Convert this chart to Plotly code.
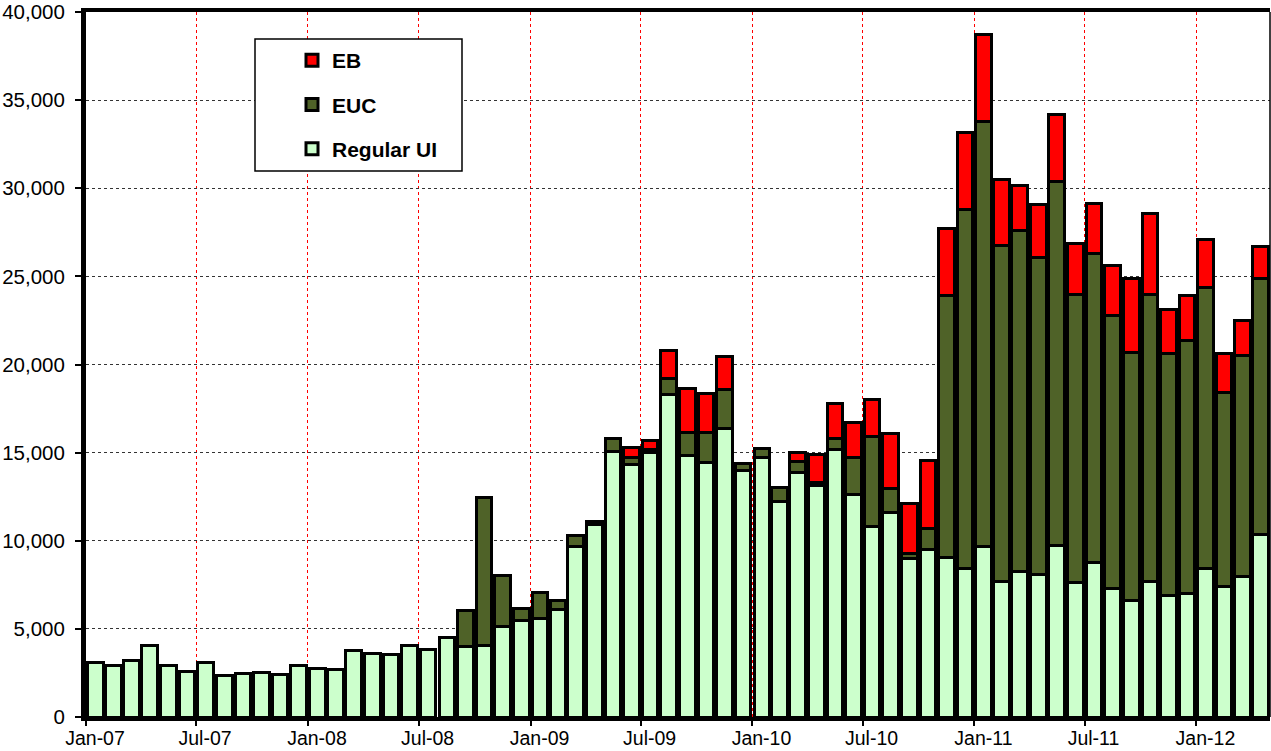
import pandas as pd
import plotly.graph_objects as go

months = pd.date_range("2007-01-01", periods=64, freq="MS").strftime("%Y-%m-%d").tolist()

regular_ui = [3100, 2950, 3180, 4030, 2930, 2590, 3080, 2360, 2440, 2550, 2420, 2910,
              2780, 2690, 3760, 3630, 3570, 4085, 3840, 4500, 3990, 4085, 5125, 5500,
              5580, 6110, 9700, 10910, 15070, 14320, 15000, 18300, 14810, 14450, 16360, 13980,
              14750, 12220, 13860, 13110, 15190, 12600, 10820, 11580, 9000, 9480, 9060, 8400,
              9660, 7680, 8280, 8100, 9720, 7620, 8790, 7280, 6600, 7700, 6880, 7020,
              8400, 7390, 7960, 10330]

euc = [0, 0, 0, 0, 0, 0, 0, 0, 0, 0, 0, 0,
       0, 0, 0, 0, 0, 0, 0, 0, 2080, 8395, 2895, 650,
       1495, 510, 610, 210, 760, 400, 170, 910, 1330, 1700, 2250, 390,
       490, 790, 630, 200, 620, 2130, 5120, 1410, 250, 1230, 14880, 20370,
       24120, 19100, 19310, 17960, 20690, 16380, 17510, 15510, 14090, 16280, 13750, 14330,
       15960, 11010, 12560, 14560]

eb = [0, 0, 0, 0, 0, 0, 0, 0, 0, 0, 0, 0,
      0, 0, 0, 0, 0, 0, 0, 0, 0, 0, 0, 0,
      0, 0, 0, 0, 0, 560, 540, 1610, 2510, 2180, 1870, 0,
      0, 0, 530, 1610, 1990, 1970, 2100, 3110, 2840, 3830, 3750, 4400,
      4920, 3690, 2540, 2990, 3780, 2880, 2810, 2800, 4200, 4600, 2500, 2560,
      2760, 2200, 1980, 1800]

# (name, values, colour, legend rank)
series = [
    ("Regular UI", regular_ui, "#CCFFCC", 3),
    ("EUC", euc, "#4F6228", 2),
    ("EB", eb, "#FF0000", 1),
]

FONT = "Arial, Liberation Sans, sans-serif"

fig = go.Figure()
for name, vals, color, rank in series:
    fig.add_trace(go.Bar(
        x=months, y=vals, name=name, legendgroup=name, legendrank=rank,
        xperiod="M1", xperiodalignment="middle",
        marker=dict(color=color, line=dict(color="black", width=3)),
    ))

L, R, T, B = 86, 1, 12, 34
W, H = 1271, 751
pw, ph = W - L - R, H - T - B

def px(xp):
    return (xp - L) / pw

def py(yp):
    return (H - B - yp) / ph

fig.update_layout(
    width=W, height=H,
    margin=dict(l=L, r=R, t=T, b=B, autoexpand=False),
    barmode="stack", bargap=0.12,
    plot_bgcolor="white", paper_bgcolor="white",
    font=dict(family=FONT, size=20.5, color="black"),
    showlegend=True,
    legend=dict(
        x=px(292), y=py(40), xanchor="left", yanchor="top",
        traceorder="grouped", tracegroupgap=14,
        bgcolor="rgba(0,0,0,0)", borderwidth=0,
        font=dict(family=FONT, size=21, color="black", weight="bold"),
    ),
    xaxis=dict(
        type="date", range=["2007-01-01", "2012-05-01"],
        tick0="2007-01-01", dtick="M6", tickformat="%b-%y",
        ticklabelshift=9, ticklabelstandoff=-4,
        showgrid=True, gridcolor="red", griddash="dot", gridwidth=1,
        showline=True, linecolor="black", linewidth=4, mirror=True,
        ticks="outside", ticklen=5, tickwidth=1.5, tickcolor="black",
        tickfont=dict(family=FONT, size=19.5, color="black"),
        zeroline=False, automargin=False,
    ),
    yaxis=dict(
        range=[0, 40000], dtick=5000, tickformat=",",
        showgrid=True, gridcolor="#333333", griddash="dot", gridwidth=1,
        showline=True, linecolor="black", linewidth=5,
        ticks="outside", ticklen=6, tickwidth=1.5, tickcolor="black",
        ticklabelstandoff=6,
        tickfont=dict(family=FONT, size=20.5, color="black"),
        zeroline=False, automargin=False,
    ),
    shapes=[
        dict(type="rect", xref="paper", yref="paper",
             x0=px(255), x1=px(462), y0=py(171), y1=py(39),
             fillcolor="white", line=dict(color="black", width=1.5), layer="above"),
        dict(type="line", xref="paper", yref="paper",
             x0=1, x1=1, y0=0, y1=1, line=dict(color="black", width=1.5)),
    ],
)

fig.write_html("out.html", config={"displayModeBar": False},
               post_script="document.body.style.margin='0';document.body.style.overflow='hidden';")
